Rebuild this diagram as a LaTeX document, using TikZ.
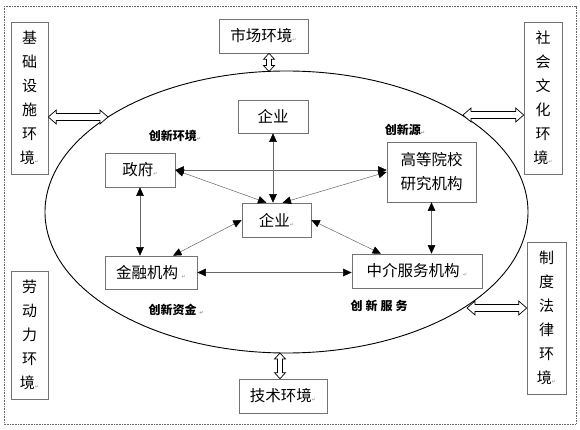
\documentclass[tikz,border=0pt]{standalone}
\usepackage{fontspec}
\newfontfamily\cjk{Noto Sans CJK SC}
\newfontfamily\dejavu{DejaVu Sans}
\usetikzlibrary{arrows.meta,shapes.geometric,calc}
\newcommand{\pmark}{\textcolor{black!45}{\dejavu\fontsize{5}{5}\selectfont ↵}}
% hollow double arrow, horizontal, from #1 (left) to #2 (right)
\newcommand{\hdarrow}[2]{%
 \draw[envarrow] let \p1=(#1), \p2=(#2) in
 (\x1,\y1) -- (\x1+8pt,\y1+7pt) -- (\x1+8pt,\y1+3.5pt) -- (\x2-8pt,\y1+3.5pt) -- (\x2-8pt,\y1+7pt) --
 (\x2,\y1) -- (\x2-8pt,\y1-7pt) -- (\x2-8pt,\y1-3.5pt) -- (\x1+8pt,\y1-3.5pt) -- (\x1+8pt,\y1-7pt) -- cycle;}
% hollow double arrow, vertical, from #1 (top) to #2 (bottom)
\newcommand{\vdarrow}[2]{%
 \draw[envarrow] let \p1=(#1), \p2=(#2) in
 (\x1,\y1) -- (\x1+5.5pt,\y1-6pt) -- (\x1+2.5pt,\y1-6pt) -- (\x1+2.5pt,\y2+6pt) -- (\x1+5.5pt,\y2+6pt) --
 (\x1,\y2) -- (\x1-5.5pt,\y2+6pt) -- (\x1-2.5pt,\y2+6pt) -- (\x1-2.5pt,\y1-6pt) -- (\x1-5.5pt,\y1-6pt) -- cycle;}
\begin{document}
\begin{tikzpicture}[x=1pt,y=-1pt,
 box/.style={draw=black!55, line width=0.6pt, inner sep=0pt, fill=white, font=\cjk\fontsize{15.5}{15.5}\selectfont},
 vbox/.style={box, align=center, font=\cjk\fontsize{15}{24}\selectfont},
 lab/.style={inner sep=0pt, font=\cjk\bfseries\fontsize{12}{12}\selectfont},
 link/.style={draw=black!60, line width=0.5pt, {Triangle[length=8.5pt,width=7.5pt,color=black]}-{Triangle[length=8.5pt,width=7.5pt,color=black]}},
 envarrow/.style={draw=black, line width=0.7pt, fill=white, line join=miter}]
\useasboundingbox (0,0) rectangle (580,430);
\draw[black!60, line width=0.5pt, dash pattern=on 0.8pt off 0.8pt] (4,6) rectangle (576,424);
% ellipse
\node[draw, ellipse, line width=0.9pt, minimum width=483pt, minimum height=282pt, inner sep=0pt] (eco) at (286.5,212) {};
\coordinate (eL) at (108,117);
\coordinate (eR1) at (463,115);
\coordinate (eR2) at (467,308);
\coordinate (eT) at (269,71.5);
\coordinate (eB) at (280,353);
% environment boxes
\node[vbox, minimum width=37pt, minimum height=152pt] (jc) at (29.5,98) {基\\础\\设\\施\\环\\境\pmark};
\node[box, minimum width=89pt, minimum height=34pt] (sc) at (263.5,36) {市场环境\pmark};
\node[vbox, minimum width=38pt, minimum height=152pt] (sh) at (543,98) {社\\会\\文\\化\\环\\境\pmark};
\node[vbox, minimum width=37pt, minimum height=128pt] (ld) at (29.5,335) {劳\\动\\力\\环\\境\pmark};
\node[box, minimum width=88pt, minimum height=34pt] (js) at (283,396) {技术环境\pmark};
\node[vbox, minimum width=39pt, minimum height=152pt] (zd) at (546.5,318) {制\\度\\法\\律\\环\\境\pmark};
% inner boxes
\node[box, minimum width=70pt, minimum height=33pt] (qt) at (273,116.5) {企业};
\node[box, minimum width=70pt, minimum height=34pt] (zf) at (140,170) {政府\pmark};
\node[box, align=center, minimum width=89pt, minimum height=60pt, font=\cjk\fontsize{15.5}{24}\selectfont] (gx) at (431.5,172) {高等院校\\研究机构};
\node[box, minimum width=69pt, minimum height=34pt] (qc) at (276.5,220) {企业\pmark};
\node[box, minimum width=92pt, minimum height=33pt] (jr) at (151,272.5) {金融机构 \pmark};
\node[box, minimum width=130pt, minimum height=34pt] (zj) at (417,271) {中介服务机构 \pmark};
% labels
\node[lab] (l1) at (175,136) {创新环境\pmark};
\node[lab] (l2) at (405,130) {创新源\pmark};
\node[lab] (l3) at (176,310) {创新资金 \pmark};
\node[lab] (l4) at (379,306) {创\kern3pt 新\kern3pt 服\kern3pt 务};
% links
\draw[link] (qt.south) -- (qt.south |- qc.north);
\draw[link] (zf.east) -- (zf.east -| gx.west);
\draw[link] (zf.east) -- ([xshift=-10pt]qc.north);
\draw[link] (gx.west) -- ([xshift=6pt]qc.north);
\draw[link] (zf.south) -- (zf.south |- jr.north);
\draw[link] (qc.west) -- ([xshift=22pt]jr.north);
\draw[link] (qc.east) -- ([xshift=-36pt]zj.north);
\draw[link] (gx.south) -- (gx.south |- zj.north);
\draw[link] (jr.east) -- (jr.east -| zj.west);
% environment arrows
\hdarrow{jc.east |- eL}{eL}
\hdarrow{eR1}{sh.west |- eR1}
\hdarrow{eR2}{zd.west |- eR2}
\vdarrow{sc.south -| eT}{eT}
\vdarrow{eB}{js.north -| eB}
\end{tikzpicture}
\end{document}
